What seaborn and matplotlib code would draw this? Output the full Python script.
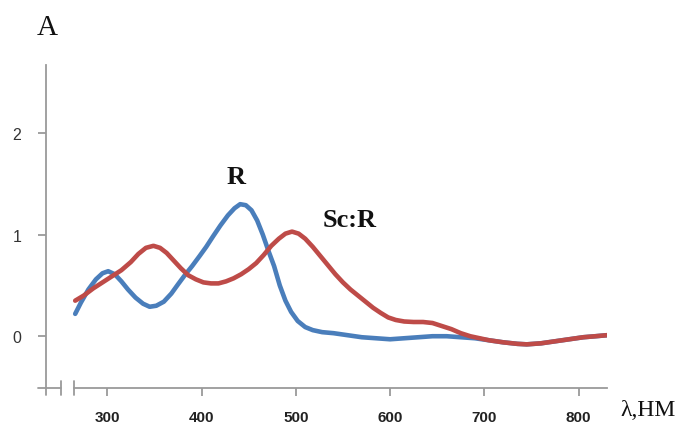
import numpy as np
import pandas as pd
import matplotlib
matplotlib.use("Agg")
import matplotlib.pyplot as plt
import seaborn as sns

# Absorption spectrum of R: wavelength (nm) and absorbance
wl_R = [266, 272, 280, 288, 295, 301, 308, 315, 322, 330, 338, 345, 352, 360,
        368, 375, 383, 390, 398, 405, 412, 420, 428, 435, 441, 447, 453, 459,
        465, 471, 477, 483, 489, 495, 502, 510, 518, 528, 540, 555, 570, 585,
        600, 615, 630, 645, 660, 675, 690, 705, 720, 735, 745, 760, 775, 790,
        805, 818, 830]
abs_R = [0.22, 0.33, 0.46, 0.56, 0.62, 0.64, 0.61, 0.54, 0.46, 0.38, 0.32,
         0.29, 0.30, 0.34, 0.42, 0.51, 0.61, 0.69, 0.79, 0.88, 0.98, 1.09,
         1.19, 1.26, 1.30, 1.29, 1.24, 1.14, 1.00, 0.84, 0.69, 0.50, 0.35,
         0.24, 0.15, 0.09, 0.06, 0.04, 0.03, 0.01, -0.01, -0.02, -0.03, -0.02,
         -0.01, 0.00, 0.00, -0.01, -0.02, -0.04, -0.06, -0.075, -0.08, -0.07,
         -0.05, -0.03, -0.01, 0.00, 0.01]

# Absorption spectrum of the Sc:R complex
wl_ScR = [266, 275, 285, 295, 305, 315, 325, 333, 341, 349, 356, 363, 370,
          378, 386, 394, 402, 410, 418, 426, 434, 442, 450, 458, 466, 474, 482,
          489, 496, 503, 510, 518, 526, 534, 542, 550, 558, 566, 574, 582, 590,
          598, 606, 615, 625, 635, 645, 655, 665, 675, 685, 695, 705, 720, 735,
          745, 760, 775, 790, 805, 818, 830]
abs_ScR = [0.35, 0.40, 0.47, 0.53, 0.59, 0.65, 0.73, 0.81, 0.87, 0.89, 0.87,
           0.82, 0.75, 0.67, 0.60, 0.56, 0.53, 0.52, 0.52, 0.54, 0.57, 0.61,
           0.66, 0.72, 0.80, 0.89, 0.96, 1.01, 1.03, 1.01, 0.96, 0.88, 0.79,
           0.70, 0.61, 0.53, 0.46, 0.40, 0.34, 0.28, 0.23, 0.185, 0.16, 0.145,
           0.14, 0.14, 0.13, 0.10, 0.07, 0.03, 0.00, -0.02, -0.04, -0.06,
           -0.075, -0.08, -0.07, -0.05, -0.03, -0.01, 0.00, 0.01]

series_names = ["R", "Sc:R"]
series_colors = ["#4A7EBB", "#BE4B48"]
x_ticks = [300, 400, 500, 600, 700, 800]
y_ticks = [0, 1, 2]

df = pd.DataFrame({
    "wavelength": wl_R + wl_ScR,
    "A": abs_R + abs_ScR,
    "sample": [series_names[0]] * len(wl_R) + [series_names[1]] * len(wl_ScR),
})

sns.set_theme(style="white")
plt.rcParams["font.family"] = ["Liberation Sans", "DejaVu Sans"]

fig = plt.figure(figsize=(6.81, 4.35), dpi=100)
ax = fig.add_axes([0.0675, 0.1057, 0.8237, 0.7425])

sns.lineplot(data=df, x="wavelength", y="A", hue="sample",
             palette=dict(zip(series_names, series_colors)),
             linewidth=3.3, legend=False, ax=ax, sort=False)
for ln in ax.get_lines():
    ln.set_solid_capstyle("round")
    ln.set_solid_joinstyle("round")

x_left, x_right = 235, 830
y_bottom, y_top = -0.51, 2.67
ax.set_xlim(x_left, x_right)
ax.set_ylim(y_bottom, y_top)

axis_color = "#9A9A9A"
for side in ["top", "right"]:
    ax.spines[side].set_visible(False)
for side in ["left", "bottom"]:
    ax.spines[side].set_color(axis_color)
    ax.spines[side].set_linewidth(1.3)
# broken x axis: main part starts after the gap
ax.spines["bottom"].set_bounds(265, x_right)

ax.set_xticks(x_ticks)
ax.set_yticks(y_ticks)
ax.set_xticklabels([str(v) for v in x_ticks], fontsize=11, fontweight="bold",
                   color="#222222")
ax.set_yticklabels([str(v) for v in y_ticks], fontsize=11.5, color="#333333")
ax.tick_params(axis="x", direction="out", length=5.5, width=1.3, color=axis_color,
               pad=10.5, bottom=True)
ax.tick_params(axis="y", direction="out", length=5.8, width=1.3, color=axis_color,
               pad=12, left=True)
ax.set_xlabel("")
ax.set_ylabel("")
ax.grid(False)

# axis break marks and the short stub left of the gap
xt = ax.get_xaxis_transform()
ax.plot([227, 251], [0, 0], transform=xt, color=axis_color, lw=1.3, clip_on=False)
for xb in (251, 265):
    ax.plot([xb, xb], [-0.022, 0.022], transform=xt, color=axis_color, lw=1.3,
            clip_on=False)
ax.plot([x_left, x_left], [-0.022, 0], transform=xt, color=axis_color, lw=1.3,
        clip_on=False)

serif = ["Liberation Serif", "DejaVu Serif"]
fig.text(47 / 681, 1 - 28 / 435, "A", family=serif, fontsize=21,
         ha="center", va="center", color="#111111")
fig.text(648 / 681, 1 - 411 / 435, "λ,HM", family=serif, fontsize=17,
         ha="center", va="center", color="#111111")
ax.text(437, 1.57, series_names[0], family=serif, fontsize=19, fontweight="bold",
        ha="center", va="center", color="#111111")
ax.text(557, 1.15, series_names[1], family=serif, fontsize=19, fontweight="bold",
        ha="center", va="center", color="#111111")

fig.savefig("out.png", dpi=100)
